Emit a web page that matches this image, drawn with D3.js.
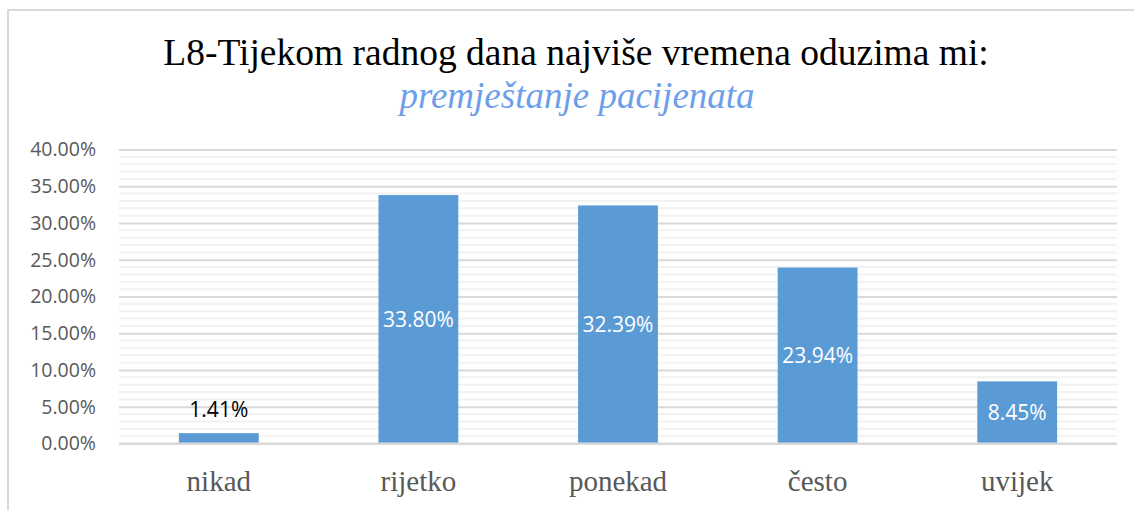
<!DOCTYPE html>
<html>
<head>
<meta charset="utf-8">
<script src="https://cdn.jsdelivr.net/npm/d3@7"></script>
<style>
  body { margin: 0; background: #fff; }
  svg { display: block; }
</style>
</head>
<body>
<svg id="chart" width="1134" height="510"></svg>
<script>
// data
const categories = ['nikad', 'rijetko', 'ponekad', 'često', 'uvijek']
const values = [0.0141, 0.3380, 0.3239, 0.2394, 0.0845]
const yTicks = [0, 0.05, 0.10, 0.15, 0.20, 0.25, 0.30, 0.35, 0.40]
const titleText = 'L8-Tijekom radnog dana najviše vremena oduzima mi:'
const subtitleText = 'premještanje pacijenata'

const barColor = '#5b9bd5'
const serif = '"Liberation Serif", "Times New Roman", serif'
const sans = '"Open Sans", sans-serif'
const svg = d3.select('#chart')

// outer chart frame (cut off at right/bottom like the reference)
svg.append('rect')
    .attr('x', 8).attr('y', 10)
    .attr('width', 1140).attr('height', 520)
    .attr('fill', 'none')
    .attr('stroke', '#d9d9d9')
    .attr('stroke-width', 2)

const plotLeft = 119, plotRight = 1117, plotTop = 149.5, plotBottom = 443.5

const x = d3.scaleBand().domain(categories).range([plotLeft, plotRight]).paddingInner(0.6).paddingOuter(0.3)
const y = d3.scaleLinear().domain([0, 0.4]).range([plotBottom, plotTop])

// minor gridlines every 1%
const minor = d3.range(1, 40).filter(i => i % 5 !== 0).map(i => i / 100)
svg.append('g').selectAll('line')
    .data(minor)
    .enter()
    .append('line')
    .attr('x1', plotLeft).attr('x2', plotRight)
    .attr('y1', d => y(d)).attr('y2', d => y(d))
    .attr('stroke', '#f2f2f2')
    .attr('stroke-width', 2)

// major gridlines + value axis labels
const yAxis = d3.axisLeft(y)
    .tickValues(yTicks)
    .tickSize(-(plotRight - plotLeft))
    .tickPadding(23)
    .tickFormat(d => (d * 100).toFixed(2) + '%')
const yG = svg.append('g').attr('transform', `translate(${plotLeft},0)`).call(yAxis)
yG.select('.domain').remove()
yG.selectAll('.tick line').attr('stroke', '#d9d9d9').attr('stroke-width', 2)
yG.selectAll('.tick text')
    .attr('fill', '#595959')
    .style('font-family', sans)
    .style('font-size', '19.5px')

// bars
svg.append('g').selectAll('rect')
    .data(values)
    .enter()
    .append('rect')
    .attr('x', (d, i) => x(categories[i]))
    .attr('y', d => y(d))
    .attr('width', x.bandwidth())
    .attr('height', d => y(0) - y(d))
    .attr('fill', barColor)

// data labels: centered inside, or above when the bar is too short
svg.append('g').selectAll('text')
    .data(values)
    .enter()
    .append('text')
    .attr('x', (d, i) => x(categories[i]) + x.bandwidth() / 2)
    .attr('y', d => (y(0) - y(d)) > 30 ? (y(d) + y(0)) / 2 : y(d) - 23)
    .attr('dy', '0.35em')
    .attr('text-anchor', 'middle')
    .attr('fill', d => (y(0) - y(d)) > 30 ? '#ffffff' : '#000000')
    .style('font-family', sans)
    .style('font-size', '21px')
    .text(d => (d * 100).toFixed(2) + '%')

// category axis
const xAxis = d3.axisBottom(x).tickSize(0).tickPadding(27)
const xG = svg.append('g').attr('transform', `translate(0,${plotBottom})`).call(xAxis)
xG.select('.domain').attr('stroke', '#d9d9d9').attr('stroke-width', 2)
    .attr('d', `M${plotLeft},0H${plotRight}`)
xG.selectAll('.tick text')
    .attr('fill', '#595959')
    .style('font-family', serif)
    .style('font-size', '29px')

// titles
svg.append('text')
    .attr('x', 576).attr('y', 65)
    .attr('text-anchor', 'middle')
    .style('font-family', serif)
    .style('font-size', '37.5px')
    .attr('fill', '#000')
    .text(titleText)

svg.append('text')
    .attr('x', 577).attr('y', 108)
    .attr('text-anchor', 'middle')
    .style('font-family', serif)
    .style('font-size', '37px')
    .style('font-style', 'italic')
    .attr('fill', '#6d9eeb')
    .text(subtitleText)
</script>
</body>
</html>
